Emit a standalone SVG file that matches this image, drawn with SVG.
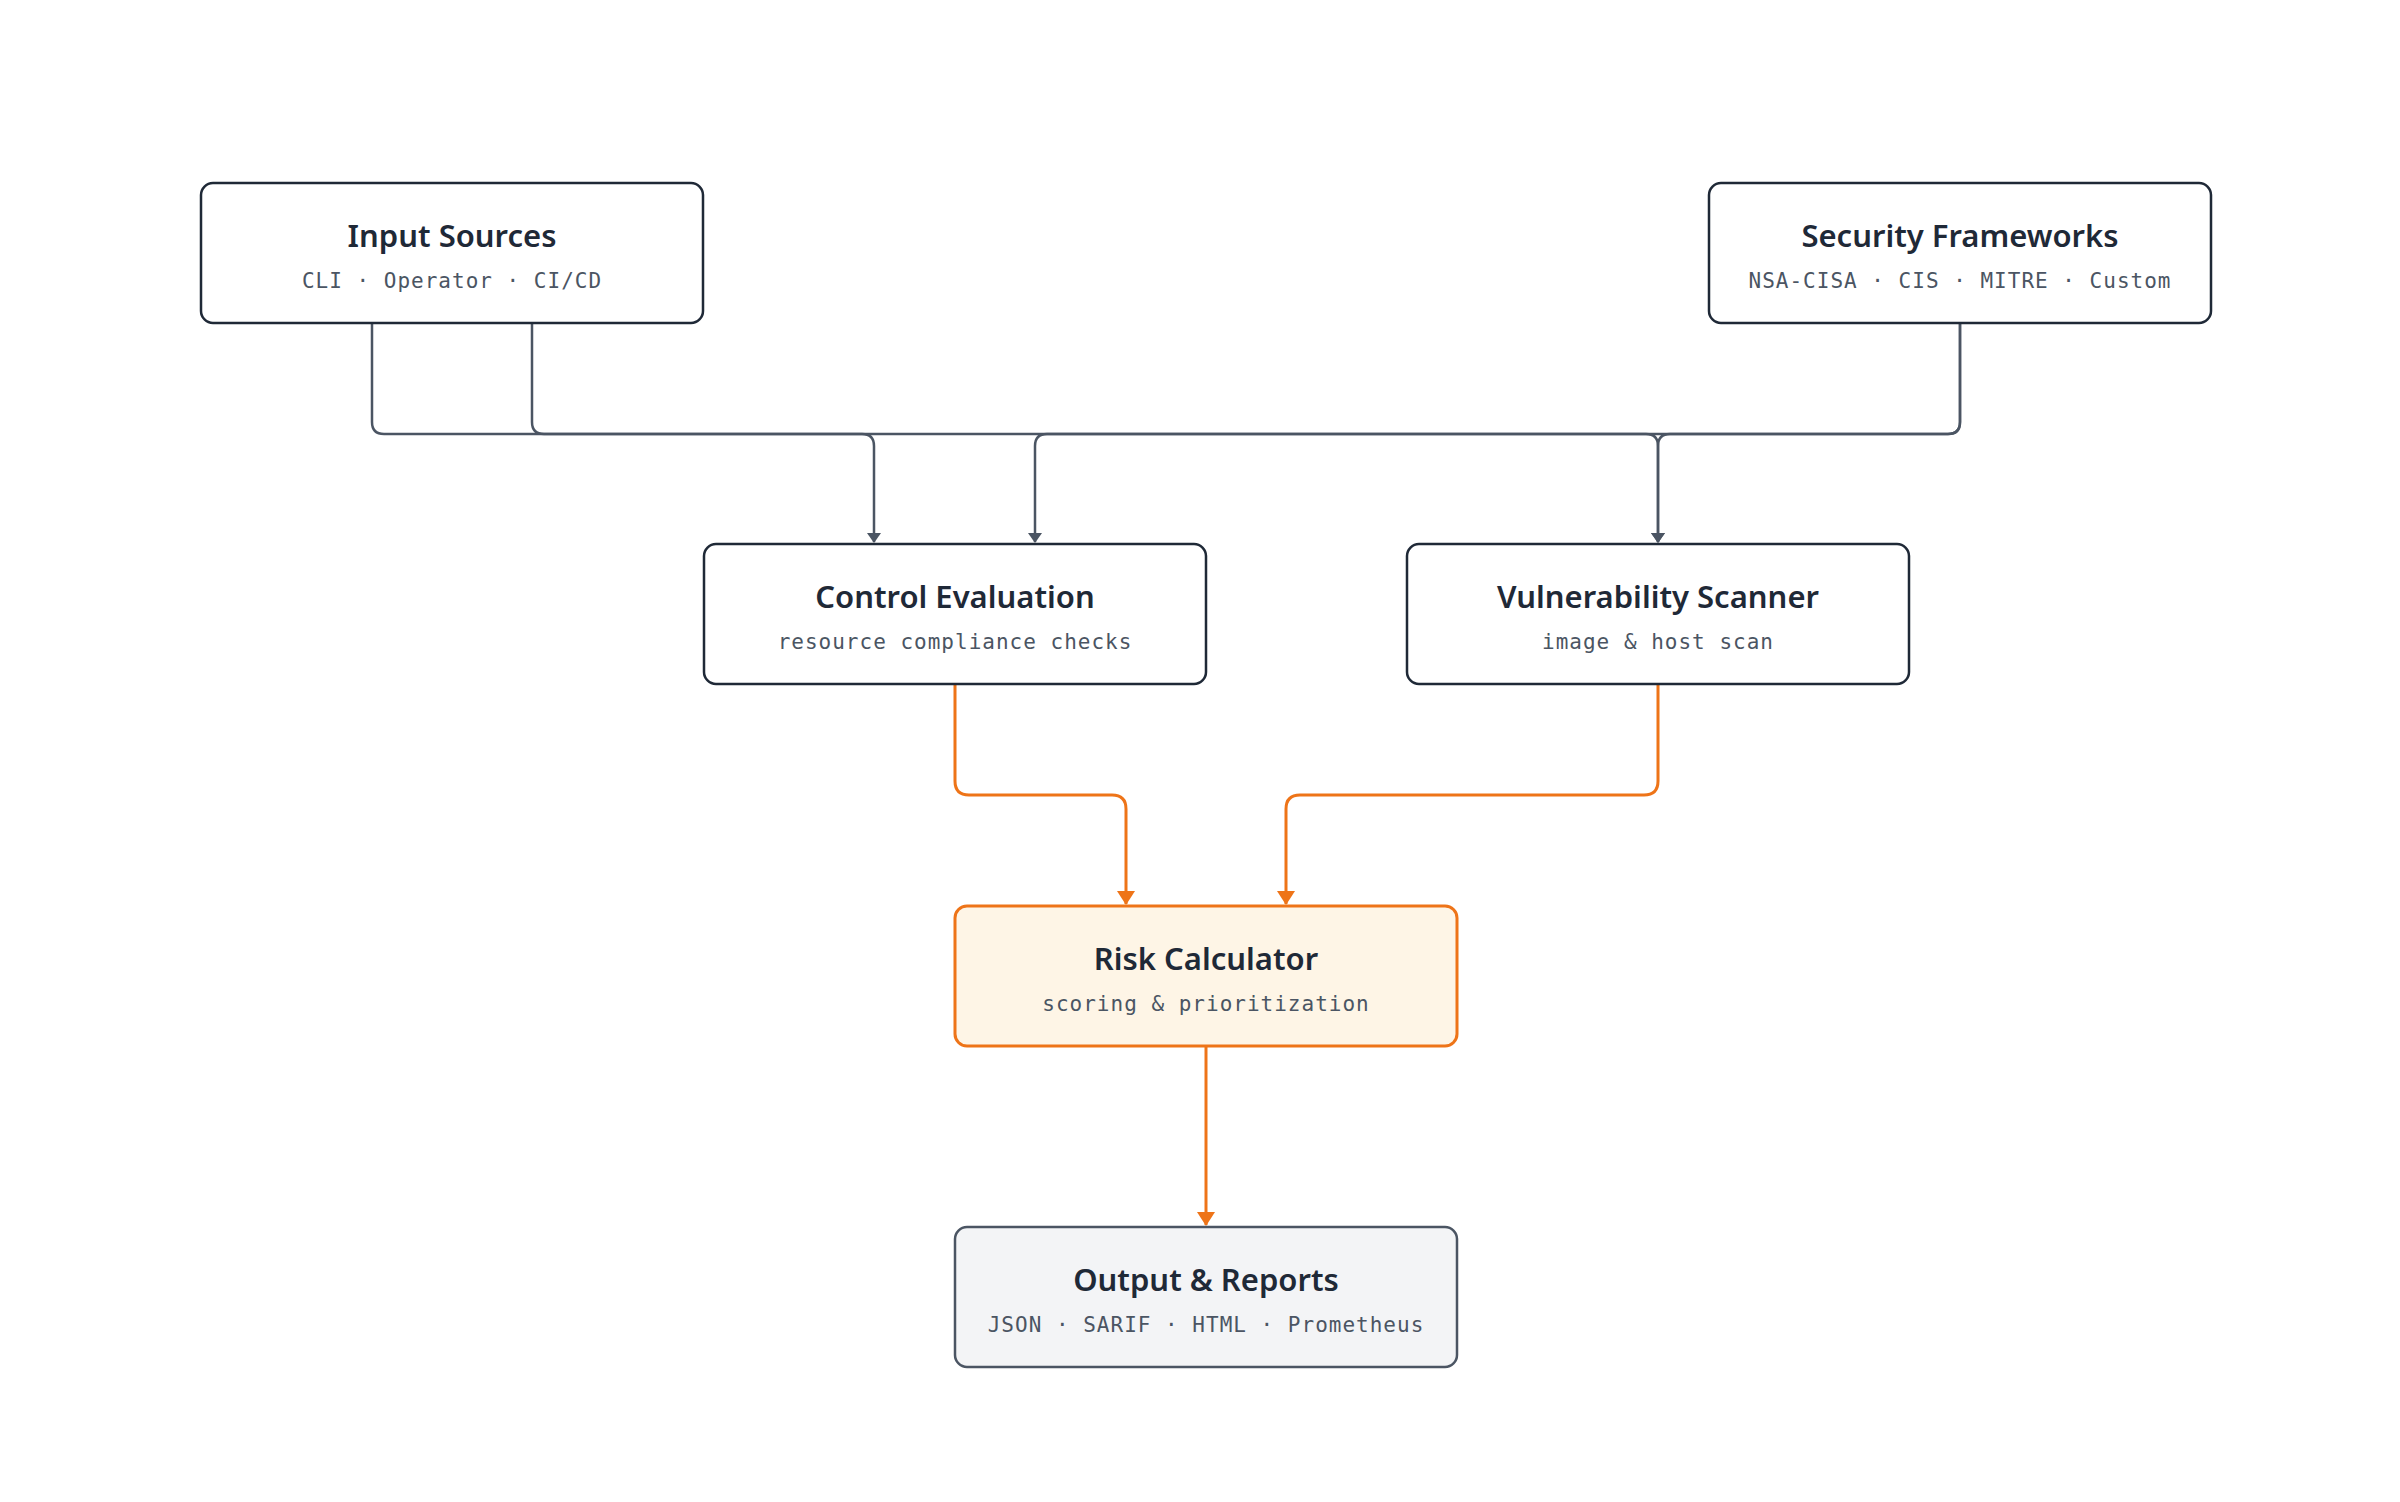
<svg xmlns="http://www.w3.org/2000/svg" width="2400" height="1502" viewBox="0 0 2400 1502">
<defs>
<marker id="ag" markerWidth="10" markerHeight="14" refX="9" refY="7" orient="auto" markerUnits="userSpaceOnUse" viewBox="0 0 10 14"><path d="M0,0 L10,7 L0,14 z" fill="#4b5563"/></marker>
<marker id="ao" markerWidth="14" markerHeight="18" refX="13" refY="9" orient="auto" markerUnits="userSpaceOnUse" viewBox="0 0 14 18"><path d="M0,0 L14,9 L0,18 z" fill="#ee7418"/></marker>
<style>
.box{fill:#fff;stroke:#1f2937;stroke-width:2.5}
.t{font-family:"Noto Sans","Open Sans",sans-serif;font-weight:600;font-size:31px;fill:#1f2937;text-anchor:middle}
.s{font-family:"DejaVu Sans Mono","Liberation Mono",monospace;font-size:21px;fill:#4b5563;text-anchor:middle;letter-spacing:1px}
.g{fill:none;stroke:#4b5563;stroke-width:2.5}
.o{fill:none;stroke:#ee7418;stroke-width:3}
</style>
</defs>
<rect width="2400" height="1502" fill="#fff"/>
<g id="connectors">
<path class="g" d="M372,323 V422 Q372,434 384,434 H862 Q874,434 874,446 V542" marker-end="url(#ag)"/>
<path class="g" d="M532,323 V422 Q532,434 544,434 H1646 Q1658,434 1658,446 V542" marker-end="url(#ag)"/>
<path class="g" d="M1960,323 V422 Q1960,434 1948,434 H1047 Q1035,434 1035,446 V542" marker-end="url(#ag)"/>
<path class="g" d="M1960,323 V422 Q1960,434 1948,434 H1670 Q1658,434 1658,446 V542" marker-end="url(#ag)"/>
<path class="o" d="M955,684 V781 Q955,795 969,795 H1112 Q1126,795 1126,809 V904" marker-end="url(#ao)"/>
<path class="o" d="M1658,684 V781 Q1658,795 1644,795 H1300 Q1286,795 1286,809 V904" marker-end="url(#ao)"/>
<path class="o" d="M1206,1046 V1225" marker-end="url(#ao)"/>
</g>
<g id="input"><rect class="box" x="201" y="183" width="502" height="140" rx="12"/><text class="t" x="452" y="247">Input Sources</text><text class="s" x="452" y="288">CLI · Operator · CI/CD</text></g>
<g id="security"><rect class="box" x="1709" y="183" width="502" height="140" rx="12"/><text class="t" x="1960" y="247">Security Frameworks</text><text class="s" x="1960" y="288">NSA-CISA · CIS · MITRE · Custom</text></g>
<g id="control"><rect class="box" x="704" y="544" width="502" height="140" rx="12"/><text class="t" x="955" y="608">Control Evaluation</text><text class="s" x="955" y="649">resource compliance checks</text></g>
<g id="vuln"><rect class="box" x="1407" y="544" width="502" height="140" rx="12"/><text class="t" x="1658" y="608">Vulnerability Scanner</text><text class="s" x="1658" y="649">image &amp; host scan</text></g>
<g id="risk"><rect x="955" y="906" width="502" height="140" rx="12" fill="#fef5e6" stroke="#ee7418" stroke-width="3"/><text class="t" x="1206" y="970">Risk Calculator</text><text class="s" x="1206" y="1011">scoring &amp; prioritization</text></g>
<g id="output"><rect x="955" y="1227" width="502" height="140" rx="12" fill="#f3f4f6" stroke="#4b5563" stroke-width="2.5"/><text class="t" x="1206" y="1291">Output &amp; Reports</text><text class="s" x="1206" y="1332">JSON · SARIF · HTML · Prometheus</text></g>
</svg>
